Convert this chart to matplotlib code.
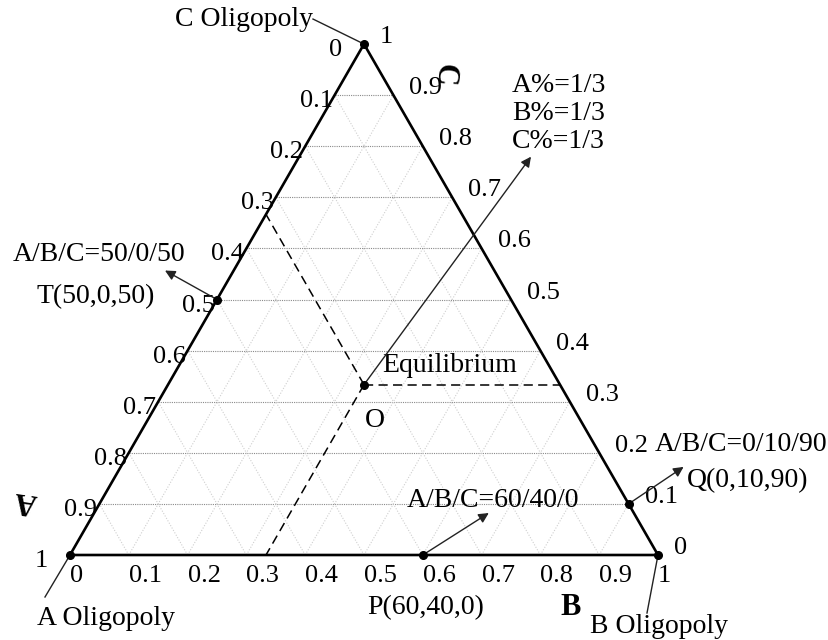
import numpy as np
import matplotlib.pyplot as plt

plt.rcParams['font.family'] = ['Liberation Serif', 'DejaVu Serif']

# grid levels and tick labels (same on all three sides)
levels = [0.1, 0.2, 0.3, 0.4, 0.5, 0.6, 0.7, 0.8, 0.9]
tick_vals = [0, 0.1, 0.2, 0.3, 0.4, 0.5, 0.6, 0.7, 0.8, 0.9, 1]
tick_text = ["0", "0.1", "0.2", "0.3", "0.4", "0.5", "0.6", "0.7", "0.8", "0.9", "1"]

# marked points, as fractions (a, b, c) placed on the triangle
pt_names = ["O", "T", "P", "Q"]
pt_a = [1/3, 0.5, 0.4, 0.0]
pt_b = [1/3, 0.0, 0.6, 0.9]
pt_c = [1/3, 0.5, 0.0, 0.1]

W, H = 829, 640
X0, Y0, SX, SY = 70, 555, 588, 590


def tern(a, b, c):
    return b + c / 2, c * np.sqrt(3) / 2


def px(x, y):
    # pixel position -> data position
    return (x - X0) / SX, (Y0 - y) / SY


fig = plt.figure(figsize=(8.29, 6.40), dpi=100)
ax = fig.add_axes([0, 0, 1, 1])
ax.set_xlim(px(0, 0)[0], px(W, 0)[0])
ax.set_ylim(px(0, H)[1], px(0, 0)[1])
ax.axis('off')

# grid
for v in levels:
    x, y = zip(tern(1 - v, 0, v), tern(0, 1 - v, v))
    ax.plot(x, y, color='#8a8a8a', lw=0.8, ls=(0, (1, 1)), zorder=1)
    x, y = zip(tern(v, 1 - v, 0), tern(v, 0, 1 - v))
    ax.plot(x, y, color='#cfcfcf', lw=0.8, ls=(0, (1, 1.5)), zorder=1)
    x, y = zip(tern(1 - v, v, 0), tern(0, v, 1 - v))
    ax.plot(x, y, color='#cfcfcf', lw=0.8, ls=(0, (1, 1.5)), zorder=1)

# triangle
corners = [tern(1, 0, 0), tern(0, 1, 0), tern(0, 0, 1), tern(1, 0, 0)]
cx, cy = zip(*corners)
ax.plot(cx, cy, color='black', lw=1.9, zorder=3)
ax.plot(cx[:3], cy[:3], 'o', color='black', ms=5.5, zorder=4)

# tick labels
fs = 19
for v, t in zip(tick_vals, tick_text):
    ax.annotate(tick_text[tick_vals.index(round(1 - v, 1))], xy=tern(1 - v, 0, v),
                xytext=(-35, -12), textcoords='offset pixels', ha='left', va='baseline', fontsize=fs)
    ax.annotate(t, xy=tern(0, 1 - v, v), xytext=(16, 1), textcoords='offset pixels',
                ha='left', va='baseline', fontsize=fs)
    ax.annotate(t, xy=tern(1 - v, v, 0), xytext=(0, -27), textcoords='offset pixels',
                ha='left', va='baseline', fontsize=fs)

# dashed guides from the equilibrium point
ox, oy = tern(pt_a[0], pt_b[0], pt_c[0])
for end in [tern(1/3, 0, 2/3), tern(0, 2/3, 1/3), tern(2/3, 1/3, 0)]:
    ax.plot([ox, end[0]], [oy, end[1]], color='black', lw=1.1, ls=(0, (6, 3.5)), zorder=2)

# points and arrows
arrow_off = [(167, 228), (-52, 29), (66, 42), (55, 37)]
for a, b, c, (dx, dy) in zip(pt_a, pt_b, pt_c, arrow_off):
    x, y = tern(a, b, c)
    ax.plot(x, y, 'o', color='black', ms=5.5, zorder=5)
    ax.annotate('', xy=(x + dx / SX, y + dy / SY), xytext=(x, y),
                arrowprops=dict(arrowstyle='-|>', color='#222222', lw=1.0,
                                mutation_scale=15, shrinkA=0, shrinkB=0), zorder=4)

# leader lines to the oligopoly labels
lead_off = [(-25, -42), (-11, -58), (-51, 25)]
for (x, y), (dx, dy) in zip(corners[:3], lead_off):
    ax.plot([x, x + dx / SX], [y, y + dy / SY], color='#222222', lw=1.0)

fl = 20
texts = [
    ("A Oligopoly", 37, 625, 'left'),
    ("B Oligopoly", 590, 633, 'left'),
    ("C Oligopoly", 313, 26, 'right'),
    ("A/B/C=50/0/50", 13, 261, 'left'),
    ("T(50,0,50)", 37, 303, 'left'),
    ("Equilibrium", 382, 372, 'left'),
    ("O", 365, 427, 'left'),
    ("A/B/C=60/40/0", 407, 507, 'left'),
    ("P(60,40,0)", 367, 614, 'left'),
    ("A/B/C=0/10/90", 655, 451, 'left'),
    ("Q(0,10,90)", 687, 487, 'left'),
    ("A%=1/3", 512, 92, 'left'),
    ("B%=1/3", 512, 120, 'left'),
    ("C%=1/3", 512, 148, 'left'),
]
for t, x, y, ha in texts:
    ax.text(*px(x, y), t, fontsize=fl, ha=ha, va='baseline')

# axis letters
ax.text(*px(560, 615), "B", fontsize=22, fontweight='bold', ha='left', va='baseline')
ax.text(*px(26, 501), "A", fontsize=22, fontweight='bold', ha='center', va='center', rotation=172)
ax.text(*px(444, 75), "C", fontsize=22, fontweight='bold', ha='center', va='center', rotation=-95)

fig.savefig('out.png', dpi=100)
